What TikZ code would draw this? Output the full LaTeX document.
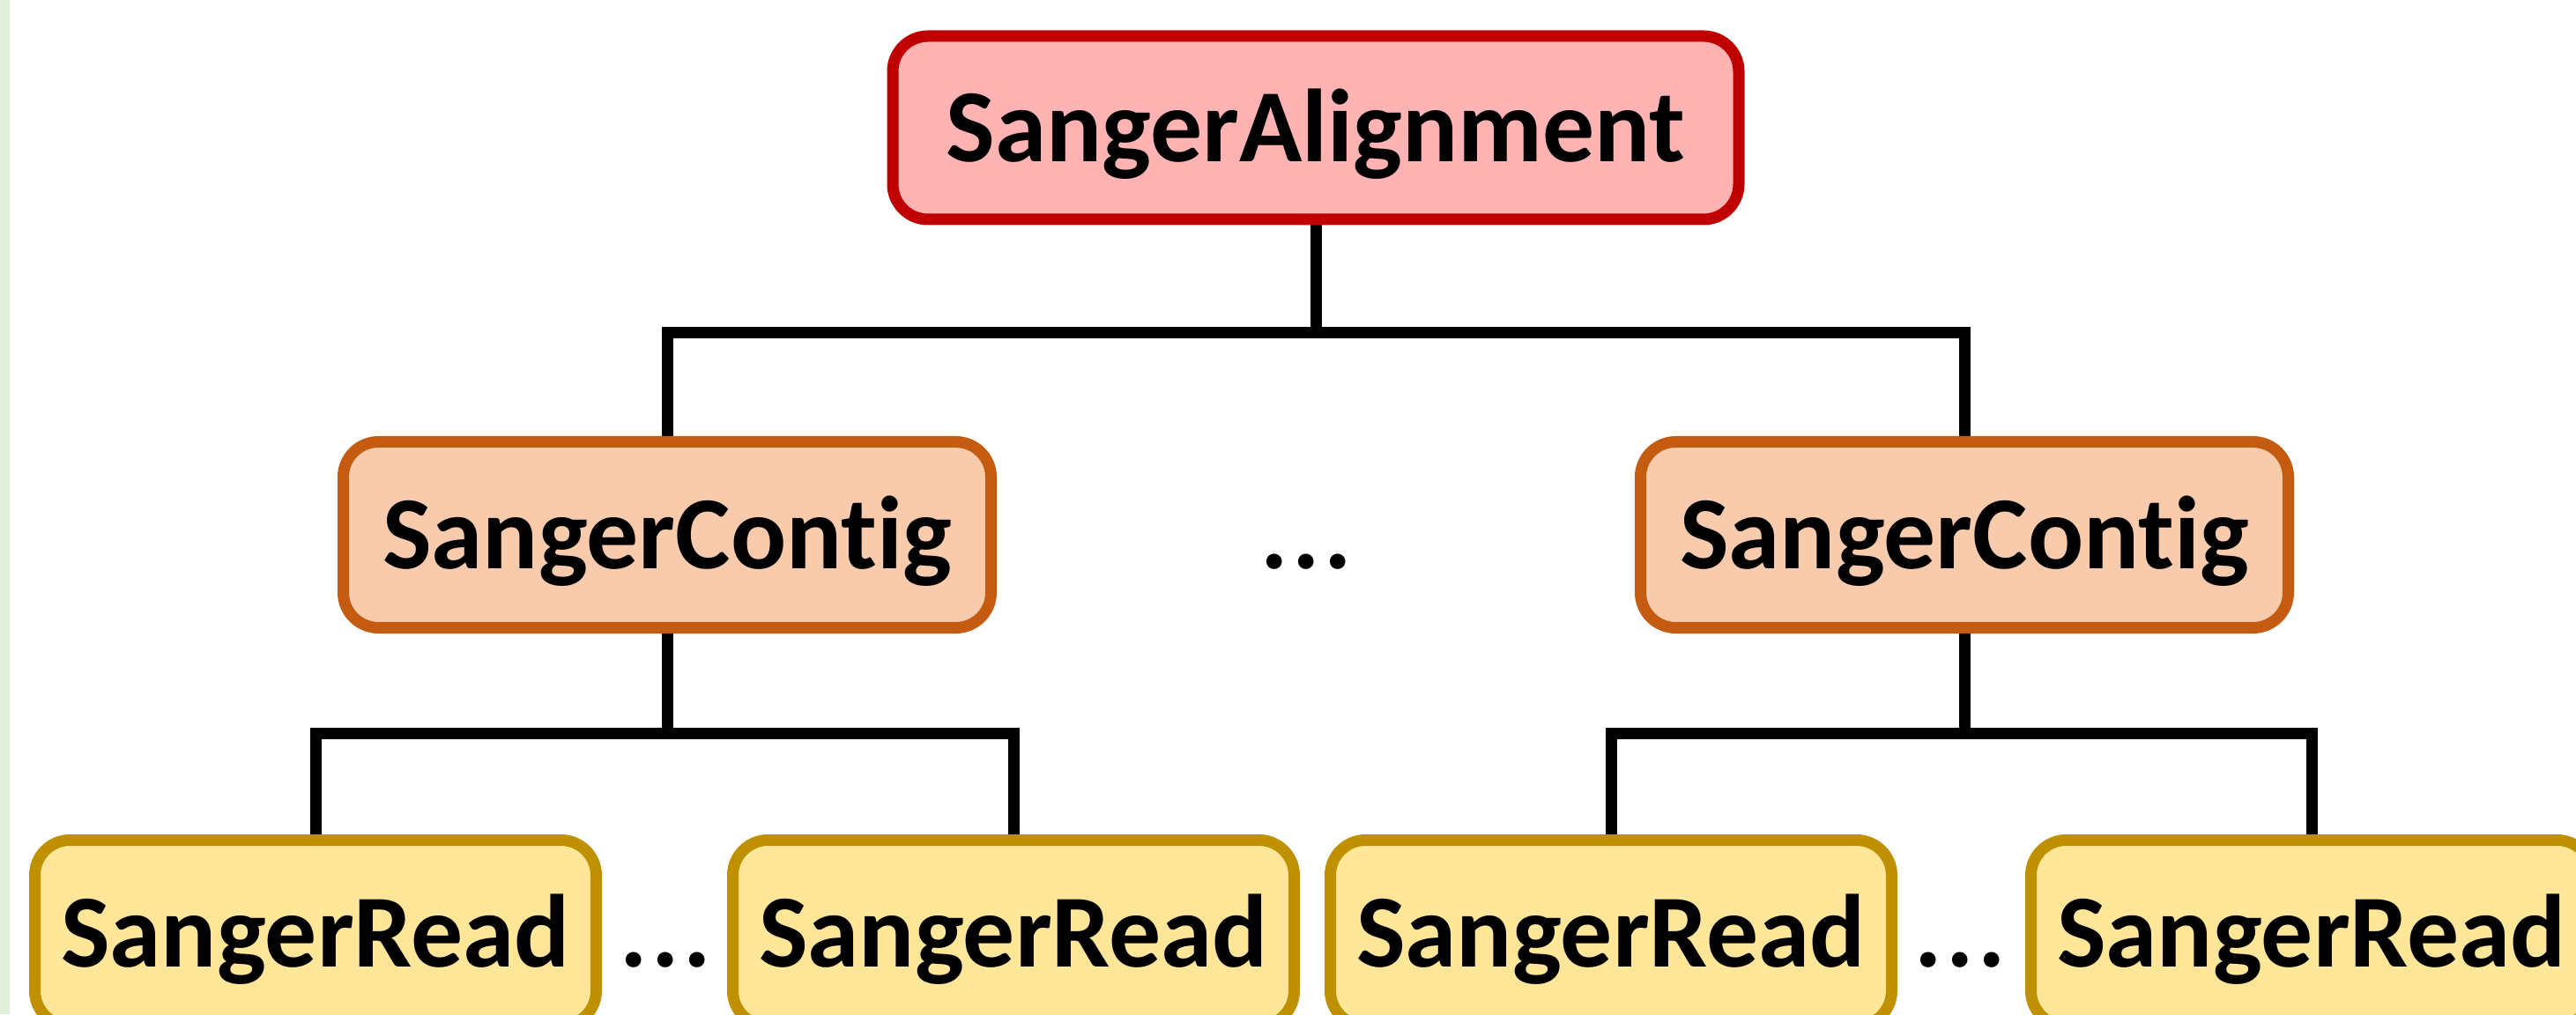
\documentclass[tikz,border=0pt]{standalone}
\usepackage{fontspec}
\setmainfont[RawFeature=-liga]{Carlito}
\usetikzlibrary{backgrounds}
\definecolor{alignfill}{HTML}{FFB3B3}
\definecolor{alignline}{HTML}{C00000}
\definecolor{contigfill}{HTML}{F8CBAD}
\definecolor{contigline}{HTML}{C55A11}
\definecolor{readfill}{HTML}{FFE699}
\definecolor{readline}{HTML}{BF9000}
\definecolor{stripgreen}{HTML}{E2EFDA}
\newcommand{\dotgap}{.\kern0.04em.\kern0.04em.}
\tikzset{
  label font/.style={font=\fontsize{33.5}{40}\selectfont\bfseries, text height=0.77cm, text depth=0cm, inner sep=0pt},
  box/.style={label font, draw, rounded corners=0.4cm, line width=0.13cm},
  alignbox/.style={box, fill=alignfill, draw=alignline, minimum width=9.6cm, minimum height=2.08cm},
  contigbox/.style={box, fill=contigfill, draw=contigline, minimum width=7.35cm, minimum height=2.11cm},
  readbox/.style={box, fill=readfill, draw=readline, minimum width=6.37cm, minimum height=2.11cm},
  link/.style={black, line width=0.13cm}
}
\begin{document}
\begin{tikzpicture}
\useasboundingbox (0, 0) rectangle (29.23, 11.51);
\fill [stripgreen] (0, 0) rectangle (0.11, 11.51);
% tree of boxes
\node [alignbox] (align) at (14.93, 10.06) {SangerAlignment};
\node [contigbox] (contigL) at (7.57, 5.44) {SangerContig};
\node [contigbox] (contigR) at (22.29, 5.44) {SangerContig};
\node [label font] (dotsC) at (14.82, 5.44) {\dotgap};
\node [readbox] (readA) at (3.58, 0.92) {SangerRead};
\node [readbox] (readB) at (11.50, 0.92) {SangerRead};
\node [readbox] (readC) at (18.28, 0.92) {SangerRead};
\node [readbox] (readD) at (26.23, 0.92) {SangerRead};
\node [label font] (dotsL) at (7.55, 0.92) {\dotgap};
\node [label font] (dotsR) at (22.24, 0.92) {\dotgap};
% connectors
\begin{scope}[on background layer]
\draw [link] (align.south) -- ++(0, -1.22) coordinate (splitTop) -| (contigL.north);
\draw [link] (splitTop) -| (contigR.north);
\draw [link] (contigL.south) -- ++(0, -1.13) coordinate (splitL) -| (readA.north);
\draw [link] (splitL) -| (readB.north);
\draw [link] (contigR.south) -- ++(0, -1.13) coordinate (splitR) -| (readC.north);
\draw [link] (splitR) -| (readD.north);
\end{scope}
\end{tikzpicture}
\end{document}
